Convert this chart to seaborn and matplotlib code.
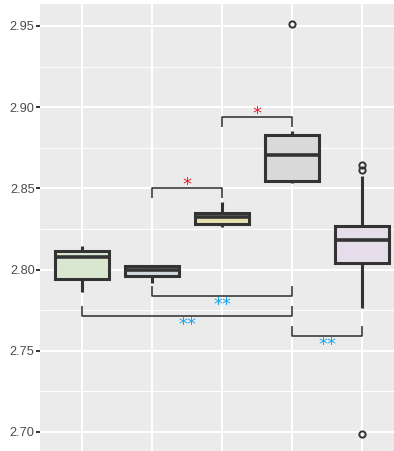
import numpy as np
import pandas as pd
import matplotlib
matplotlib.use("Agg")
import matplotlib.pyplot as plt
from matplotlib.ticker import FixedLocator
import seaborn as sns

# ---- data ----
groups = ["G1", "G2", "G3", "G4", "G5"]
g1 = [2.7864, 2.7940, 2.8080, 2.8116, 2.8145]
g2 = [2.7920, 2.7963, 2.7998, 2.8022, 2.8024]
g3 = [2.8260, 2.8279, 2.8326, 2.8347, 2.8416]
g4 = [2.8531, 2.8540, 2.8547, 2.8630, 2.8706, 2.8770, 2.8829, 2.8855, 2.9510]
g5 = [2.6988, 2.7762, 2.7950, 2.8043, 2.8100, 2.8150, 2.8182,
      2.8210, 2.8240, 2.8268, 2.8576, 2.8613, 2.8644]
fills = ["#d9ebcc", "#cfd8e6", "#efe9a6", "#d9d9d9", "#e7dbec"]

# significance comparisons: (group a, group b, bracket level, leg direction, label, colour)
comp_a = [0, 1, 3, 1, 2]
comp_b = [3, 3, 4, 2, 3]
comp_level = [2.7714, 2.7837, 2.7593, 2.8502, 2.8940]
comp_dir = [1, 1, 1, -1, -1]
comp_label = ["**", "**", "**", "*", "*"]
comp_color = ["#1aa3e8", "#1aa3e8", "#1aa3e8", "#f0202c", "#f0202c"]

yticks = [2.70, 2.75, 2.80, 2.85, 2.90, 2.95]
ytick_labels = ["2.70", "2.75", "2.80", "2.85", "2.90", "2.95"]

# ---- build table ----
vals = [g1, g2, g3, g4, g5]
df = pd.DataFrame({
    "group": np.concatenate([[g] * len(v) for g, v in zip(groups, vals)]),
    "value": np.concatenate(vals),
})

sns.set_theme(style="darkgrid")
plt.rcParams["font.family"] = ["Liberation Sans", "DejaVu Sans"]

fig = plt.figure(figsize=(3.94, 4.51), dpi=100)
ax = fig.add_axes([40 / 394, 0.0, 354 / 394, 447 / 451])
ax.set_facecolor("#ebebeb")

line_c = "#333333"
sns.boxplot(
    data=df, x="group", y="value", hue="group", order=groups, hue_order=groups,
    palette=fills, width=0.78, linewidth=2.2, linecolor=line_c,
    whis=1.5, showcaps=False, legend=False, ax=ax,
    medianprops=dict(color=line_c, linewidth=2.6),
    whiskerprops=dict(color=line_c, linewidth=2.2),
    flierprops=dict(marker="o", markerfacecolor="none", markeredgecolor=line_c,
                    markersize=4.5, markeredgewidth=1.4),
)

# brackets
leg = 0.0062
for a, b, lvl, d, lab, col in zip(comp_a, comp_b, comp_level, comp_dir, comp_label, comp_color):
    ax.plot([a, a, b, b], [lvl + d * leg, lvl, lvl, lvl + d * leg],
            color=line_c, linewidth=1.15, solid_capstyle="butt", zorder=5)
    off = -1.5 if d == -1 else -10.4
    ax.annotate(lab, xy=((a + b) / 2, lvl), xytext=(0, off), textcoords="offset points",
                ha="center", va="baseline", color=col, fontsize=13,
                family="DejaVu Sans", zorder=6)

ax.set_xlim(-0.6, 4.457)
ax.set_ylim(2.6883, 2.9635)
ax.set_xlabel("")
ax.set_ylabel("")
ax.set_xticks(range(len(groups)))
ax.set_xticklabels([""] * len(groups))
ax.tick_params(axis="x", length=0)
ax.yaxis.set_major_locator(FixedLocator(yticks))
ax.set_yticklabels(ytick_labels)
ax.yaxis.set_minor_locator(FixedLocator([2.675 + 0.05 * i for i in range(7)]))
ax.grid(which="major", color="white", linewidth=1.5)
ax.grid(which="minor", axis="y", color="white", linewidth=0.75)
ax.set_axisbelow(True)
ax.tick_params(axis="y", which="major", length=2.6, width=1.4, color=line_c,
               labelsize=9.2, labelcolor="#4d4d4d", pad=1.2, left=True)
ax.tick_params(axis="y", which="minor", length=0)
for s in ax.spines.values():
    s.set_visible(False)

fig.savefig("out.png", dpi=100)
